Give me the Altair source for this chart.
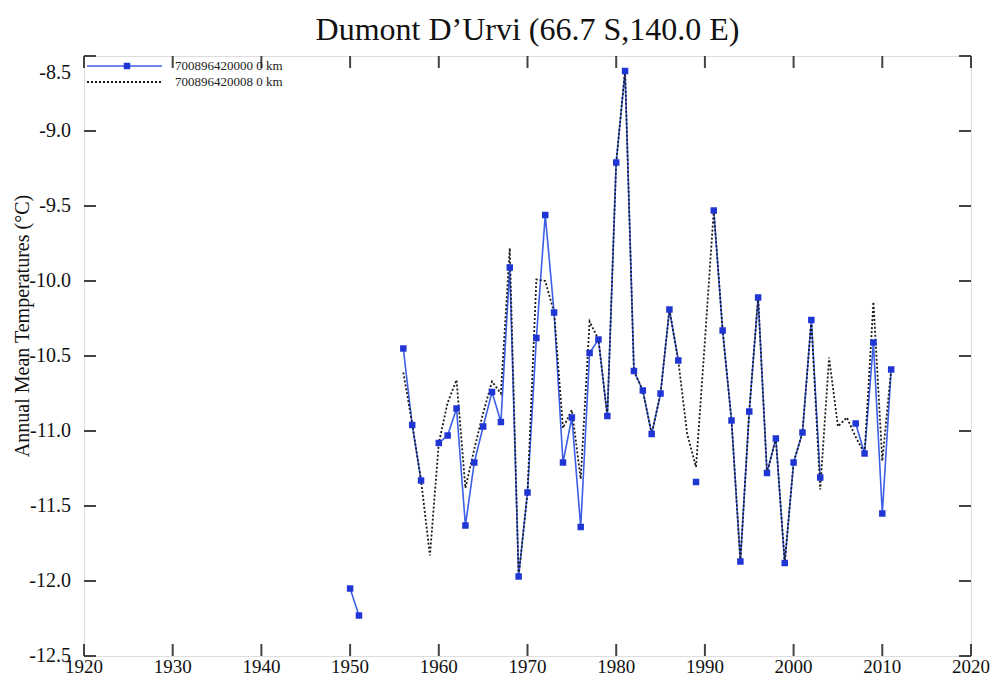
import altair as alt
import pandas as pd

# ---- data ----
years_a = list(range(1950, 2012))
temps_a = [
    -12.05, -12.23, None, None, None, None,          # 1950-1955
    -10.45, -10.96, -11.33, None,                    # 1956-1959
    -11.08, -11.03, -10.85, -11.63, -11.21, -10.97, -10.74, -10.94, -9.91, -11.97,  # 1960-1969
    -11.41, -10.38, -9.56, -10.21, -11.21, -10.91, -11.64, -10.48, -10.39, -10.90,  # 1970-1979
    -9.21, -8.60, -10.60, -10.73, -11.02, -10.75, -10.19, -10.53, None, -11.34,     # 1980-1989
    None, -9.53, -10.33, -10.93, -11.87, -10.87, -10.11, -11.28, -11.05, -11.88,    # 1990-1999
    -11.21, -11.01, -10.26, -11.31, None, None, None, -10.95, -11.15, -10.41,       # 2000-2009
    -11.55, -10.59,                                                                 # 2010-2011
]
years_b = list(range(1956, 2012))
temps_b = [
    -10.61, -10.95, -11.33, -11.83,                                                 # 1956-1959
    -11.08, -10.81, -10.66, -11.38, -11.12, -10.88, -10.67, -10.75, -9.78, -11.97,  # 1960-1969
    -11.41, -9.99, -10.00, -10.21, -10.98, -10.86, -11.32, -10.27, -10.39, -10.90,  # 1970-1979
    -9.21, -8.60, -10.60, -10.73, -11.02, -10.75, -10.19, -10.53, -11.02, -11.24,   # 1980-1989
    -10.40, -9.53, -10.33, -10.93, -11.87, -10.87, -10.11, -11.28, -11.05, -11.88,  # 1990-1999
    -11.21, -11.01, -10.26, -11.39, -10.51, -10.97, -10.91, -11.04, -11.15, -10.14, # 2000-2009
    -11.20, -10.59,                                                                 # 2010-2011
]
series_names = ["700896420000  0 km", "700896420008  0 km"]
x_tick_values = list(range(1920, 2021, 10))
x_tick_labels = [str(v) for v in x_tick_values]
y_tick_values = [-8.5, -9.0, -9.5, -10.0, -10.5, -11.0, -11.5, -12.0, -12.5]
y_tick_labels = ["-8.5", "-9.0", "-9.5", "-10.0", "-10.5", "-11.0", "-11.5", "-12.0", "-12.5"]
chart_title = "Dumont D\u2019Urvi (66.7 S,140.0 E)"
y_title = "Annual Mean Temperatures (\u00b0C)"

# ---- tables ----
seg, rows = 0, []
for yr, t in zip(years_a, temps_a):
    if t is None:
        seg += 1
    else:
        rows.append({"year": yr, "temp": t, "seg": seg})
df_a = pd.DataFrame(rows)
df_b = pd.DataFrame({"year": years_b, "temp": temps_b})
df_xt = pd.DataFrame({"year": x_tick_values, "label": x_tick_labels})
df_yt = pd.DataFrame({"temp": y_tick_values, "label": y_tick_labels})
df_leg_a = pd.DataFrame({"name": [series_names[0]]})
df_leg_b = pd.DataFrame({"name": [series_names[1]]})
df_ytitle = pd.DataFrame({"name": [y_title]})

FONT = "Liberation Serif"
W, H = 887, 600
BLUE_LINE = "#3d5fe6"
BLUE_PT = "#1f35d4"
FRAME = "#444444"
TXT = "#111111"

xs = alt.Scale(domain=[1920, 2020], nice=False, zero=False)
ys = alt.Scale(domain=[-12.5, -8.5], nice=False, zero=False)

def X(field="year"):
    return alt.X(f"{field}:Q", scale=xs, axis=None)

def Y(field="temp"):
    return alt.Y(f"{field}:Q", scale=ys, axis=None)

# frame ticks (inward) and tick labels
bot_ticks = alt.Chart(df_xt).mark_rule(color=FRAME, strokeWidth=2).encode(
    x=X(), y=alt.value(H), y2=alt.value(H - 12))
top_ticks = alt.Chart(df_xt).mark_rule(color=FRAME, strokeWidth=2).encode(
    x=X(), y=alt.value(0), y2=alt.value(12))
left_ticks = alt.Chart(df_yt).mark_rule(color=FRAME, strokeWidth=2).encode(
    y=Y(), x=alt.value(0), x2=alt.value(12))
right_ticks = alt.Chart(df_yt).mark_rule(color=FRAME, strokeWidth=2).encode(
    y=Y(), x=alt.value(W), x2=alt.value(W - 12))

x_labels = alt.Chart(df_xt).mark_text(
    align="center", baseline="middle", font=FONT, fontSize=19, color=TXT).encode(
    x=X(), y=alt.value(H + 11), text="label:N")
y_labels = alt.Chart(df_yt).transform_filter("datum.temp != -8.5").mark_text(
    align="right", baseline="middle", font=FONT, fontSize=20, color=TXT).encode(
    y=Y(), x=alt.value(-13), text="label:N")
y_label_top = alt.Chart(df_yt).transform_filter("datum.temp == -8.5").mark_text(
    align="right", baseline="middle", font=FONT, fontSize=20, color=TXT, dy=17).encode(
    y=Y(), x=alt.value(-13), text="label:N")
y_title_mark = alt.Chart(df_ytitle).mark_text(
    align="center", baseline="middle", angle=270, font=FONT, fontSize=20, color=TXT).encode(
    x=alt.value(-61), y=alt.value(270), text="name:N")

# data
line_a = alt.Chart(df_a).mark_line(color=BLUE_LINE, strokeWidth=1.6).encode(
    x=X(), y=Y(), detail="seg:N")
line_b = alt.Chart(df_b).mark_line(color="#1a1a1a", strokeWidth=1.8, strokeDash=[2, 2]).encode(
    x=X(), y=Y())
pts_a = alt.Chart(df_a).mark_point(shape="square", filled=True, size=42, color=BLUE_PT, opacity=1).encode(
    x=X(), y=Y())

# legend (top-left, inside the frame)
leg_line_a = alt.Chart(df_leg_a).mark_rule(color=BLUE_LINE, strokeWidth=1.6).encode(
    x=alt.value(3), x2=alt.value(78), y=alt.value(10))
leg_pt_a = alt.Chart(df_leg_a).mark_point(
    shape="square", filled=True, size=42, color=BLUE_PT, opacity=1).encode(x=alt.value(43), y=alt.value(10))
leg_line_b = alt.Chart(df_leg_b).mark_rule(color="#1a1a1a", strokeWidth=1.8, strokeDash=[2, 2]).encode(
    x=alt.value(3), x2=alt.value(78), y=alt.value(26))
leg_text_a = alt.Chart(df_leg_a).mark_text(
    align="left", baseline="middle", font=FONT, fontSize=13, color="#222").encode(
    x=alt.value(91), y=alt.value(10), text="name:N")
leg_text_b = alt.Chart(df_leg_b).mark_text(
    align="left", baseline="middle", font=FONT, fontSize=13, color="#222").encode(
    x=alt.value(91), y=alt.value(26), text="name:N")

chart = alt.layer(
    bot_ticks, top_ticks, left_ticks, right_ticks, x_labels, y_labels, y_label_top, y_title_mark,
    line_a, line_b, pts_a,
    leg_line_a, leg_pt_a, leg_line_b, leg_text_a, leg_text_b,
).properties(
    width=W, height=H,
    title=alt.TitleParams(chart_title, font=FONT, fontSize=32, fontWeight="normal",
                          color=TXT, anchor="middle", offset=8),
    padding={"left": 76, "top": 48, "right": 22, "bottom": 22},
    autosize=alt.AutoSizeParams(type="none"),
).configure_view(
    stroke=FRAME, strokeWidth=2
).configure(background="white")

chart.save("out.html", embed_options={"renderer": "svg", "actions": False})
